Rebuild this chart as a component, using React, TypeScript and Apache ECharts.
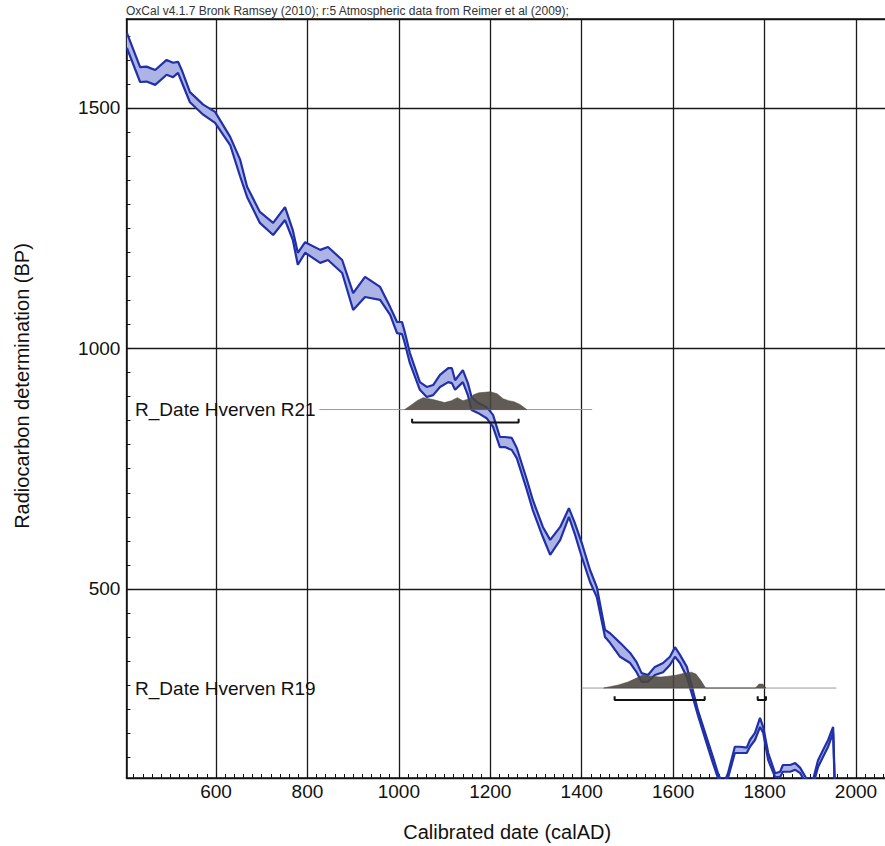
import React, { useEffect, useRef } from 'react';
import * as echarts from 'echarts';

// Calibration curve (IntCal09, 1-sigma envelope)
const calYears = [405, 434, 448, 467, 492, 506, 517, 525, 543, 572, 598, 631, 653, 668, 696, 725, 751, 768, 779, 795, 828, 845, 876, 900, 926, 959, 981, 996, 1007, 1013, 1024, 1046, 1061, 1075, 1090, 1108, 1116, 1123, 1140, 1151, 1159, 1173, 1192, 1206, 1221, 1232, 1247, 1258, 1280, 1293, 1315, 1331, 1353, 1372, 1385, 1400, 1418, 1433, 1451, 1462, 1484, 1506, 1520, 1531, 1545, 1560, 1578, 1593, 1604, 1615, 1630, 1643, 1654, 1673, 1687, 1698, 1709, 1720, 1735, 1746, 1761, 1768, 1779, 1790, 1797, 1808, 1823, 1834, 1840, 1856, 1867, 1878, 1893, 1906, 1917, 1928, 1939, 1950, 1954];
const upperBP = [1656, 1585, 1586, 1579, 1600, 1594, 1596, 1579, 1533, 1507, 1492, 1440, 1392, 1336, 1284, 1261, 1294, 1246, 1199, 1221, 1205, 1211, 1184, 1115, 1149, 1128, 1086, 1055, 1055, 1034, 991, 930, 920, 924, 945, 959, 959, 934, 955, 928, 899, 887, 878, 862, 816, 816, 814, 793, 727, 685, 629, 602, 629, 668, 637, 596, 540, 504, 415, 408, 388, 367, 348, 325, 321, 338, 346, 359, 379, 363, 338, 290, 248, 192, 151, 117, 92, 117, 172, 172, 170, 186, 201, 232, 213, 159, 117, 120, 134, 134, 138, 128, 103, 103, 144, 165, 186, 213, 82];
const lowerBP = [1625, 1554, 1555, 1548, 1569, 1564, 1573, 1554, 1512, 1486, 1469, 1423, 1357, 1315, 1261, 1236, 1267, 1226, 1174, 1199, 1178, 1184, 1157, 1080, 1107, 1101, 1070, 1032, 1030, 1011, 970, 914, 899, 903, 920, 930, 928, 914, 930, 903, 872, 866, 855, 837, 795, 795, 789, 772, 706, 664, 608, 571, 602, 650, 614, 567, 515, 483, 400, 388, 359, 346, 327, 307, 307, 321, 327, 342, 359, 346, 317, 275, 238, 180, 138, 107, 82, 107, 159, 159, 159, 172, 186, 213, 201, 144, 109, 109, 120, 120, 124, 117, 92, 92, 130, 151, 172, 201, 72];

// R_Date Hverven R21
const r21Name = 'R_Date Hverven R21';
const r21Level = 873;
const r21Span = [826, 1423];
const r21Years = [1013, 1025, 1040, 1053, 1075, 1100, 1115, 1128, 1140, 1155, 1163, 1175, 1200, 1215, 1228, 1240, 1252, 1265, 1280];
const r21Prob = [0, 0.22, 0.5, 0.67, 0.56, 0.39, 0.5, 0.67, 0.5, 0.61, 0.83, 0.94, 1, 0.89, 0.61, 0.5, 0.44, 0.28, 0];
const r21Peak = 37;
const r21Ranges = [[1029, 1262]];
const r21RangeLevel = 846;

// R_Date Hverven R19
const r19Name = 'R_Date Hverven R19';
const r19Level = 294;
const r19Span = [1400, 1957];
const r19Years = [1448, 1480, 1501, 1520, 1533, 1550, 1573, 1590, 1606, 1625, 1640, 1650, 1660, 1671, 1780, 1788, 1796, 1803];
const r19Prob = [0, 0.19, 0.38, 0.63, 0.81, 0.75, 0.69, 0.75, 0.81, 0.94, 1, 0.88, 0.5, 0, 0, 0.25, 0.25, 0];
const r19Peak = 33;
const r19Ranges = [[1472, 1669], [1785, 1803]];
const r19RangeLevel = 269;

const labelYear = 423;

// axes
const xMin = 404;
const xMax = 2070;
const xStep = 200;
const xMinorStep = 20;
const xLabels = [600, 800, 1000, 1200, 1400, 1600, 1800, 2000];
const yMin = 107;
const yMax = 1685;
const yStep = 500;
const yMinorStep = 50;
const yLabels = [500, 1000, 1500];

const titleText = 'OxCal v4.1.7 Bronk Ramsey (2010); r:5 Atmospheric data from Reimer et al (2009);';
const xName = 'Calibrated date (calAD)';
const yName = 'Radiocarbon determination (BP)';

const FONT = '"Liberation Sans", Arial, Helvetica, sans-serif';
const BLUE = '#2030a8';
const FILL = '#aeb3e6';
const DIST = '#4a453e';
const INK = '#111111';
const GRIDC = '#1a1a1a';

function ticksBetween(a: number, b: number, step: number): number[] {
  const out: number[] = [];
  for (let v = Math.ceil(a / step) * step; v <= b; v += step) out.push(v);
  return out;
}

function bandSeries(): any {
  return {
    id: 'cal-band', type: 'custom', silent: true, clip: true, z: 1,
    data: [[calYears[0], upperBP[0]]],
    renderItem: (_p: any, api: any) => {
      const pts: number[][] = [];
      for (let i = 0; i < calYears.length; i++) pts.push(api.coord([calYears[i], upperBP[i]]));
      for (let i = calYears.length - 1; i >= 0; i--) pts.push(api.coord([calYears[i], lowerBP[i]]));
      return { type: 'polygon', shape: { points: pts }, style: { fill: FILL, stroke: 'none' } };
    },
  };
}

function edgeSeries(id: string, values: number[]): any {
  return {
    id, type: 'line', symbol: 'none', silent: true, z: 3,
    data: calYears.map((y, i) => [y, values[i]]),
    lineStyle: { color: BLUE, width: 2.2 },
  };
}

function distSeries(id: string, years: number[], prob: number[], level: number, peak: number): any {
  return {
    id: id + '-dist', type: 'custom', silent: true, clip: true, z: 5,
    data: [[years[0], level]],
    renderItem: (_p: any, api: any) => {
      const pts: number[][] = [];
      for (let i = 0; i < years.length; i++) pts.push(api.coord([years[i], level + prob[i] * peak]));
      pts.push(api.coord([years[years.length - 1], level]));
      pts.push(api.coord([years[0], level]));
      return {
        type: 'polygon', shape: { points: pts },
        style: { fill: DIST, opacity: 0.88, stroke: DIST, lineWidth: 0.6 },
      };
    },
  };
}

function rangeSeries(id: string, ranges: number[][], level: number): any[] {
  const tick = 8;
  return ranges.map((r, i) => ({
    id: id + '-range' + i, type: 'line', symbol: 'none', silent: true, z: 6,
    data: [[r[0], level + tick], [r[0], level], [r[1], level], [r[1], level + tick]],
    lineStyle: { color: INK, width: 2 },
  }));
}

function baseline(id: string, span: number[], level: number): any {
  return {
    id: id + '-line', type: 'line', symbol: 'none', silent: true, z: 4,
    data: [[span[0], level], [span[1], level]],
    lineStyle: { color: '#9a9a9a', width: 1 },
  };
}

export default function App() {
  const ref = useRef<HTMLDivElement>(null);

  useEffect(() => {
    if (!ref.current) return;
    const chart = echarts.init(ref.current, undefined, { renderer: 'svg' });

    const option: any = {
      animation: false,
      backgroundColor: '#ffffff',
      title: {
        text: titleText, left: 126, top: 5, padding: 0,
        textStyle: { fontSize: 12, fontWeight: 'normal', color: '#333', fontFamily: FONT },
      },
      grid: { left: 126.4, right: -3, top: 19, bottom: 68, containLabel: false, outerBoundsMode: 'none' },
      xAxis: [
        {
          // bottom axis: labels, name and minor ticks
          type: 'value', min: xMin, max: xMax, minInterval: xStep, maxInterval: xStep, position: 'bottom',
          name: xName, nameLocation: 'middle', nameGap: 44,
          nameTextStyle: { fontSize: 20, color: INK, fontFamily: FONT },
          axisLine: { show: true, onZero: false, lineStyle: { color: INK, width: 1.5 } },
          axisTick: { show: true, inside: true, length: 4, customValues: ticksBetween(xMin, xMax, xMinorStep), lineStyle: { color: INK, width: 1 } },
          axisLabel: {
            show: true, margin: 4, fontSize: 19, color: INK, fontFamily: FONT,
            customValues: xLabels,
            formatter: (v: number) => String(v),
          },
          splitLine: { show: false },
        },
        {
          // top axis: frame and vertical grid lines
          type: 'value', min: xMin, max: xMax, minInterval: xStep, maxInterval: xStep, position: 'top',
          axisLine: { show: true, onZero: false, lineStyle: { color: INK, width: 1.5 } },
          axisTick: { show: false },
          axisLabel: { show: false },
          splitLine: { show: true, lineStyle: { color: GRIDC, width: 1.3 } },
        },
      ],
      yAxis: [
        {
          type: 'value', min: yMin, max: yMax, minInterval: yStep, maxInterval: yStep, position: 'left',
          axisLine: { show: true, onZero: false, lineStyle: { color: INK, width: 1.5 } },
          axisTick: { show: true, inside: true, length: 4, customValues: ticksBetween(yMin, yMax, yMinorStep), lineStyle: { color: INK, width: 1 } },
          axisLabel: {
            show: true, margin: 6, fontSize: 19, color: INK, fontFamily: FONT,
            customValues: yLabels,
            formatter: (v: number) => String(v),
          },
          splitLine: { show: false },
        },
        {
          type: 'value', min: yMin, max: yMax, minInterval: yStep, maxInterval: yStep, position: 'right',
          axisLine: { show: false },
          axisTick: { show: false },
          axisLabel: { show: false },
          splitLine: { show: true, lineStyle: { color: GRIDC, width: 1.3 } },
        },
      ],
      graphic: [
        {
          type: 'text', x: 22, y: 386, rotation: Math.PI / 2, silent: true,
          style: {
            text: yName, fontSize: 20, fill: INK, fontFamily: FONT,
            align: 'center', verticalAlign: 'middle', textAlign: 'center', textVerticalAlign: 'middle',
          },
        },
      ],
      series: [
        bandSeries(),
        edgeSeries('cal-upper', upperBP),
        edgeSeries('cal-lower', lowerBP),
        baseline('r21', r21Span, r21Level),
        distSeries('r21', r21Years, r21Prob, r21Level, r21Peak),
        ...rangeSeries('r21', r21Ranges, r21RangeLevel),
        baseline('r19', r19Span, r19Level),
        distSeries('r19', r19Years, r19Prob, r19Level, r19Peak),
        ...rangeSeries('r19', r19Ranges, r19RangeLevel),
      ],
    };

    chart.setOption(option);

    // R_Date labels placed through the chart's own scales
    const labels = [
      { name: r21Name, level: r21Level },
      { name: r19Name, level: r19Level },
    ].map((l) => {
      const p = chart.convertToPixel({ gridIndex: 0 }, [labelYear, l.level]) as number[];
      return {
        type: 'text', x: p[0], y: p[1], silent: true, z: 10,
        style: {
          text: l.name, fontSize: 19, fill: INK, fontFamily: FONT,
          align: 'left', verticalAlign: 'middle', textAlign: 'left', textVerticalAlign: 'middle',
        },
      };
    });
    chart.setOption({
      graphic: [
        option.graphic[0],
        ...labels,
      ],
    });

    return () => chart.dispose();
  }, []);

  return (
    <div
      ref={ref}
      style={{ position: 'fixed', left: 0, top: 0, width: 885, height: 846, background: '#fff' }}
    />
  );
}
